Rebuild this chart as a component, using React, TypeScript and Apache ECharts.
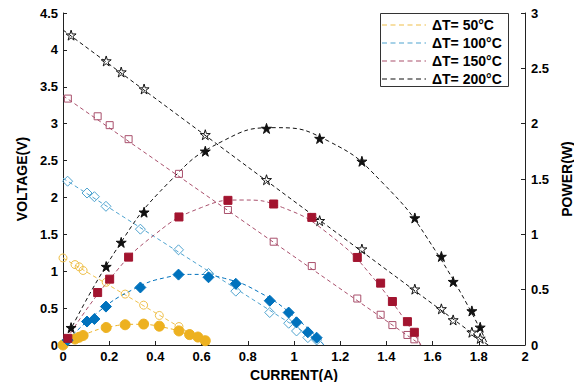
import React, { useEffect, useRef } from "react";
import * as echarts from "echarts";

// ΔT = 50°C
const I50 = [0, 0.052, 0.07, 0.087, 0.187, 0.269, 0.349, 0.417, 0.502, 0.548, 0.584, 0.616];
const V50 = [1.18, 1.09, 1.06, 1.01, 0.85, 0.69, 0.54, 0.4, 0.25, 0.15, 0.1, 0.05];
const P50 = [0, 0.054, 0.07, 0.086, 0.158, 0.183, 0.189, 0.17, 0.127, 0.094, 0.072, 0.039];
// ΔT = 100°C
const I100 = [0.02, 0.104, 0.136, 0.186, 0.335, 0.5, 0.63, 0.748, 0.895, 0.977, 1.011, 1.06, 1.098];
const V100 = [2.22, 2.06, 2.01, 1.88, 1.57, 1.29, 0.97, 0.73, 0.44, 0.295, 0.19, 0.1, 0.068];
const P100 = [0.044, 0.212, 0.235, 0.347, 0.52, 0.636, 0.612, 0.553, 0.4, 0.293, 0.205, 0.115, 0.066];
// ΔT = 150°C
const I150 = [0.021, 0.15, 0.202, 0.284, 0.502, 0.714, 0.912, 1.077, 1.274, 1.375, 1.426, 1.491, 1.521];
const V150 = [3.34, 3.1, 2.98, 2.79, 2.32, 1.83, 1.4, 1.07, 0.63, 0.41, 0.27, 0.136, 0.077];
const P150 = [0.06, 0.474, 0.595, 0.794, 1.157, 1.307, 1.274, 1.153, 0.791, 0.559, 0.393, 0.211, 0.115];
// ΔT = 200°C
const I200 = [0.035, 0.187, 0.252, 0.351, 0.616, 0.881, 1.111, 1.294, 1.523, 1.638, 1.689, 1.77, 1.806];
const V200 = [4.2, 3.85, 3.7, 3.47, 2.85, 2.24, 1.685, 1.3, 0.757, 0.49, 0.34, 0.173, 0.09];
const P200 = [0.157, 0.709, 0.927, 1.2, 1.751, 1.957, 1.866, 1.66, 1.148, 0.8, 0.573, 0.308, 0.16];

// dashed fit curves: [current, value]
const VFIT50 = [[0, 1.18], [0.635, 0]];
const VFIT100 = [[0, 2.26], [1.13, 0]];
const VFIT150 = [[0, 3.38], [1.55, 0]];
const VFIT200 = [[0, 4.27], [1.84, 0]];
const PFIT50 = [[0, 0], [0.1, 0.1], [0.2, 0.163], [0.318, 0.187], [0.45, 0.154], [0.55, 0.085], [0.635, 0]];
const PFIT100 = [[0, 0], [0.15, 0.294], [0.3, 0.498], [0.45, 0.612], [0.565, 0.638], [0.7, 0.602], [0.85, 0.476], [1.0, 0.26], [1.13, 0]];
const PFIT150 = [[0, 0], [0.2, 0.589], [0.4, 1.003], [0.6, 1.243], [0.775, 1.31], [0.95, 1.243], [1.15, 1.003], [1.35, 0.589], [1.55, 0]];
const PFIT200 = [[0, 0], [0.23, 0.859], [0.46, 1.473], [0.69, 1.841], [0.92, 1.964], [1.15, 1.841], [1.38, 1.473], [1.61, 0.859], [1.84, 0]];

const LEGEND = ["ΔT= 50°C", "ΔT= 100°C", "ΔT= 150°C", "ΔT= 200°C"];

const STAR = "path://M50,0 L61,35 L98,35 L68,57 L79,91 L50,70 L21,91 L32,57 L2,35 L39,35 Z";

const FONT = "'Liberation Sans', Arial, Helvetica, sans-serif";

const zip = (xs: number[], ys: number[]) => xs.map((x, i) => [x, ys[i]]);

export default function App() {
  const ref = useRef<HTMLDivElement>(null);
  useEffect(() => {
    if (!ref.current) return;
    const chart = echarts.init(ref.current, null, { renderer: "svg" });

    const fitLine = (name: string, data: number[][], color: string, yAxisIndex: number) => ({
      name,
      type: "line",
      yAxisIndex,
      data,
      smooth: data.length > 2 ? 0.5 : false,
      symbol: "none",
      silent: true,
      lineStyle: { color, width: 1, type: [4, 3] },
      itemStyle: { color },
      z: 2,
    });
    const marks = (name: string, data: number[][], symbol: string, size: number, fill: string, stroke: string, yAxisIndex: number) => ({
      name,
      type: "scatter",
      yAxisIndex,
      data,
      symbol,
      symbolSize: size,
      itemStyle: { color: fill, borderColor: stroke, borderWidth: 1, opacity: 1 },
      z: 3,
    });

    const c50v = "#EFC04A", c50p = "#EDB120";
    const c100v = "#4FA3CF", c100p = "#0072BD";
    const c150v = "#A9506C", c150p = "#A2142F";
    const c200 = "#111111";
    const legendColors = [c50v, c100v, c150v, c200];

    // legend drawn as a boxed list of dashed samples and labels
    const legendEls: any[] = [
      {
        type: "rect",
        shape: { x: 380.5, y: 13.5, width: 128, height: 73 },
        style: { fill: "#fff", stroke: "#333", lineWidth: 1 },
        z: 100,
      },
    ];
    LEGEND.forEach((label, i) => {
      const y = 25 + i * 18;
      legendEls.push({
        type: "line",
        shape: { x1: 382, y1: y, x2: 426, y2: y },
        style: { stroke: legendColors[i], lineWidth: 1.2, lineDash: [5, 3.5] },
        z: 101,
      });
      legendEls.push({
        type: "text",
        x: 432,
        y,
        style: {
          text: label,
          fill: "#000",
          font: `bold 14px ${FONT}`,
          verticalAlign: "middle",
          align: "left",
        },
        z: 101,
      });
    });

    chart.setOption({
      animation: false,
      textStyle: { fontFamily: FONT },
      grid: { left: 63, right: 49, top: 13, bottom: 37, outerBoundsMode: "none", containLabel: false },
      graphic: legendEls,
      xAxis: {
        type: "value",
        min: 0,
        max: 2,
        interval: 0.2,
        name: "CURRENT(A)",
        nameLocation: "middle",
        nameGap: 20,
        nameTextStyle: { fontFamily: FONT, fontWeight: "bold", fontSize: 14, color: "#000" },
        axisLine: { lineStyle: { color: "#222", width: 1 } },
        axisTick: { inside: true, length: 4, lineStyle: { color: "#222" } },
        axisLabel: { fontFamily: FONT, fontWeight: "bold", fontSize: 13, color: "#000", margin: 5 },
        splitLine: { show: false },
      },
      yAxis: [
        {
          type: "value",
          min: 0,
          max: 4.5,
          interval: 0.5,
          position: "left",
          name: "VOLTAGE(V)",
          nameLocation: "middle",
          nameRotate: 90,
          nameGap: 19,
          nameTextStyle: { fontFamily: FONT, fontWeight: "bold", fontSize: 14, color: "#000" },
          axisLine: { show: true, lineStyle: { color: "#222", width: 1 } },
          axisTick: { show: true, inside: true, length: 4, lineStyle: { color: "#222" } },
          axisLabel: { fontFamily: FONT, fontWeight: "bold", fontSize: 13, color: "#000", margin: 5 },
          splitLine: { show: false },
        },
        {
          type: "value",
          min: 0,
          max: 3,
          interval: 0.5,
          position: "right",
          name: "POWER(W)",
          nameLocation: "middle",
          nameRotate: 90,
          nameGap: 15,
          nameTextStyle: { fontFamily: FONT, fontWeight: "bold", fontSize: 14, color: "#000" },
          axisLine: { show: true, lineStyle: { color: "#222", width: 1 } },
          axisTick: { show: true, inside: true, length: 4, lineStyle: { color: "#222" } },
          axisLabel: { fontFamily: FONT, fontWeight: "bold", fontSize: 13, color: "#000", margin: 6 },
          splitLine: { show: false },
        },
      ],
      series: [
        fitLine(LEGEND[0], VFIT50, c50v, 0),
        fitLine(LEGEND[1], VFIT100, c100v, 0),
        fitLine(LEGEND[2], VFIT150, c150v, 0),
        fitLine(LEGEND[3], VFIT200, c200, 0),
        fitLine("P fit 50", PFIT50, c50p, 1),
        fitLine("P fit 100", PFIT100, c100p, 1),
        fitLine("P fit 150", PFIT150, c150v, 1),
        fitLine("P fit 200", PFIT200, c200, 1),
        marks("V 50", zip(I50, V50), "circle", 8, "rgba(255,255,255,0)", c50v, 0),
        marks("V 100", zip(I100, V100), "diamond", 10, "rgba(255,255,255,0)", c100v, 0),
        marks("V 150", zip(I150, V150), "rect", 7, "rgba(255,255,255,0)", c150v, 0),
        marks("V 200", zip(I200, V200), STAR, 10, "rgba(255,255,255,0)", c200, 0),
        marks("P 50", zip(I50, P50), "circle", 10, c50p, c50p, 1),
        marks("P 100", zip(I100, P100), "diamond", 11, c100p, c100p, 1),
        marks("P 150", zip(I150, P150), "rect", 8, c150p, c150p, 1),
        marks("P 200", zip(I200, P200), STAR, 10, c200, c200, 1),
      ],
    });
    return () => chart.dispose();
  }, []);
  return (
    <div
      ref={ref}
      style={{ position: "absolute", left: 0, top: 0, width: 574, height: 382, background: "#fff" }}
    />
  );
}
